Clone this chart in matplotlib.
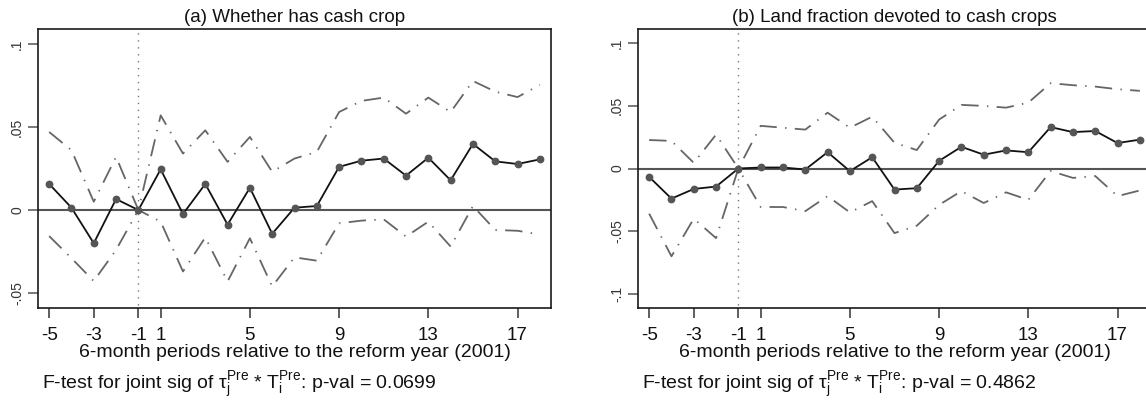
"""Event-study plots: cash crop adoption around the 2001 reform."""

import matplotlib

matplotlib.use("Agg")
import matplotlib.pyplot as plt
import numpy as np

plt.rcParams["font.family"] = ["Liberation Sans", "DejaVu Sans"]
plt.rcParams["mathtext.fontset"] = "custom"
plt.rcParams["mathtext.rm"] = "Liberation Sans"
plt.rcParams["mathtext.it"] = "Liberation Sans"
plt.rcParams["lines.scale_dashes"] = False

# 6-month periods relative to reform (no period 0)
periods = [-5, -4, -3, -2, -1, 1, 2, 3, 4, 5, 6, 7, 8, 9, 10, 11, 12, 13, 14, 15, 16, 17, 18]
tick_periods = [-5, -3, -1, 1, 5, 9, 13, 17]

# (a) whether has cash crop
cash_coef = [0.0157, 0.0014, -0.0200, 0.0066, 0.0, 0.0245, -0.0024, 0.0157, -0.0088,
             0.0134, -0.0143, 0.0014, 0.0024, 0.0260, 0.0297, 0.0310, 0.0207, 0.0315,
             0.0179, 0.0398, 0.0293, 0.0277, 0.0305]
cash_hi = [0.0470, 0.0360, 0.0050, 0.0320, 0.0, 0.0570, 0.0340, 0.0480, 0.0290,
           0.0440, 0.0230, 0.0310, 0.0350, 0.0590, 0.0657, 0.0677, 0.0580, 0.0677,
           0.0590, 0.0777, 0.0713, 0.0680, 0.0753]
cash_lo = [-0.0157, -0.0290, -0.0428, -0.0240, 0.0, -0.0070, -0.0370, -0.0165, -0.0430,
           -0.0170, -0.0460, -0.0285, -0.0305, -0.0080, -0.0064, -0.0056, -0.0160, -0.0070,
           -0.0220, 0.0024, -0.0120, -0.0125, -0.0147]

# (b) land fraction devoted to cash crops
land_coef = [-0.0067, -0.0240, -0.0163, -0.0144, 0.0, 0.0008, 0.0008, -0.0008, 0.0130,
             -0.0021, 0.0090, -0.0168, -0.0157, 0.0061, 0.0173, 0.0110, 0.0144, 0.0130,
             0.0330, 0.0290, 0.0299, 0.0203, 0.0230]
land_hi = [0.0227, 0.0220, 0.0045, 0.0270, 0.0, 0.0340, 0.0325, 0.0310, 0.0445,
           0.0325, 0.0413, 0.0205, 0.0147, 0.0390, 0.0507, 0.0499, 0.0485, 0.0525,
           0.0680, 0.0664, 0.0653, 0.0632, 0.0619]
land_lo = [-0.0360, -0.0700, -0.0400, -0.0555, 0.0, -0.0307, -0.0307, -0.0340, -0.0220,
           -0.0350, -0.0260, -0.0515, -0.0456, -0.0290, -0.0180, -0.0275, -0.0190, -0.0250,
           -0.0020, -0.0075, -0.0060, -0.0220, -0.0175]

W, H = 1146, 400
CI_DASH = (0, (12.5, 6, 1, 6))


def draw_panel(ax, coef, hi, lo, title, yticks, ylim):
    pos = np.arange(len(periods))
    ax.axhline(0, color="#555555", lw=1.5, zorder=1)
    ax.axvline(periods.index(-1), color="#777777", lw=1.0, ls=(0, (1, 4)),
               ymin=0.01, ymax=0.99, zorder=1)
    ax.plot(pos, hi, color="#666666", lw=1.3, ls=CI_DASH, zorder=2)
    ax.plot(pos, lo, color="#666666", lw=1.3, ls=CI_DASH, zorder=2)
    ax.plot(pos, coef, color="#111111", lw=1.3, zorder=3)
    ax.plot(pos, coef, ls="none", marker="o", ms=4.6, color="#555555", zorder=4)

    ax.set_xlim(-0.5, len(periods) - 0.5)
    ax.set_ylim(*ylim)
    ax.set_xticks([periods.index(p) for p in tick_periods])
    ax.set_xticklabels([str(p) for p in tick_periods], fontsize=13.5, color="#111111")
    ax.set_yticks(yticks)
    ax.set_yticklabels([f"{v:g}".replace("0.", ".") for v in yticks], rotation=90,
                       va="center", fontsize=10, color="#333333")
    ax.tick_params(axis="x", length=7, width=1.1, pad=7, color="#333333")
    ax.tick_params(axis="y", length=7, width=1.1, pad=3, color="#555555")
    for spine in ax.spines.values():
        spine.set_linewidth(1.2)
        spine.set_color("#1a1a1a")
    ax.set_xlabel("6-month periods relative to the reform year (2001)", fontsize=14,
                  labelpad=0, color="#111111")
    ax.set_title(title, fontsize=13.5, pad=5, color="#111111")


fig = plt.figure(figsize=(W / 100, H / 100), dpi=100)
ax_a = fig.add_axes([38 / W, (H - 308) / H, 513 / W, 279 / H])
ax_b = fig.add_axes([638 / W, (H - 308) / H, 513 / W, 279 / H])

draw_panel(ax_a, cash_coef, cash_hi, cash_lo, "(a) Whether has cash crop",
           [-0.05, 0, 0.05, 0.1], (-0.059, 0.109))
draw_panel(ax_b, land_coef, land_hi, land_lo, "(b) Land fraction devoted to cash crops",
           [-0.1, -0.05, 0, 0.05, 0.1], (-0.1112, 0.1112))

ftest = r"F-test for joint sig of $\mathrm{τ}_{\mathrm{j}}^{\mathrm{Pre}}$ * $\mathrm{T}_{\mathrm{i}}^{\mathrm{Pre}}$: p-val = "
fig.text(42 / W, (H - 389) / H, ftest + "0.0699", fontsize=14, va="baseline", color="#111111")
fig.text(642 / W, (H - 389) / H, ftest + "0.4862", fontsize=14, va="baseline", color="#111111")

fig.savefig("out.png", dpi=100)
